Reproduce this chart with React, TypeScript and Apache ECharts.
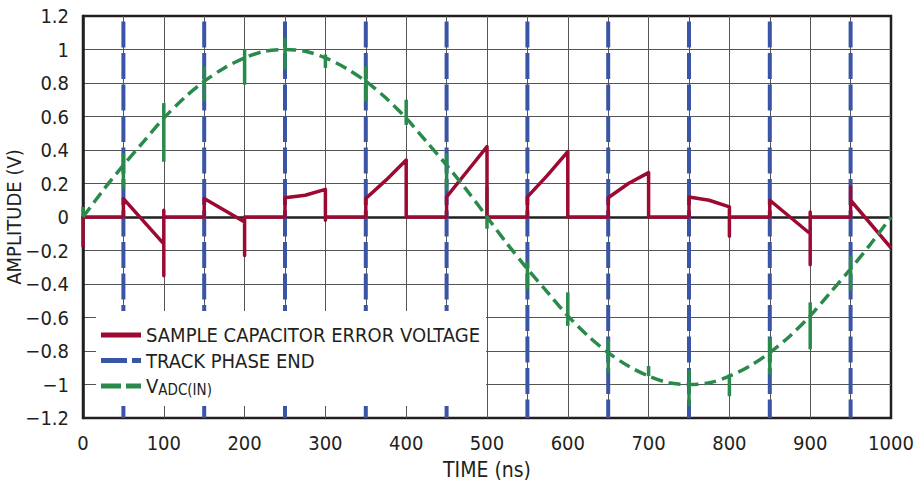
import React, { useEffect, useRef } from "react";
import * as echarts from "echarts";

// ---------- data ----------
const X_MIN = 0;
const X_MAX = 1000;
const Y_MIN = -1.2;
const Y_MAX = 1.2;

// Sample capacitor error voltage (time in ns, amplitude in V)
const ERR_T = [
  0, 0, 50, 50, 100, 100, 100, 100, 150, 150, 175, 200, 200, 200, 250, 250, 275, 300, 300, 300,
  350, 350, 375, 400, 400, 450, 450, 475, 500, 500, 550, 550, 575, 600, 600, 650, 650, 675, 700, 700,
  750, 750, 775, 800, 800, 800, 850, 850, 875, 900, 900, 900, 900, 950, 950, 950, 1000,
];
const ERR_V = [
  -0.18, 0, 0, 0.11, -0.16, -0.35, 0.04, 0, 0, 0.11, 0.04, -0.03, -0.23, 0, 0, 0.115, 0.13, 0.165, -0.02, 0,
  0, 0.11, 0.22, 0.34, 0, 0, 0.12, 0.27, 0.42, 0, 0, 0.12, 0.25, 0.39, 0, 0, 0.115, 0.2, 0.265, 0,
  0, 0.12, 0.1, 0.06, -0.115, 0, 0, 0.1, 0.0, -0.1, -0.285, 0.03, 0, 0, 0.18, 0.1, -0.185,
];

// Track phase end markers (ns)
const TRACK_END = [50, 150, 250, 350, 450, 550, 650, 750, 850, 950];

// ADC input voltage (read every 25 ns)
const VIN_T = [
  0, 25, 50, 75, 100, 125, 150, 175, 200, 225, 250, 275, 300, 325, 350, 375, 400, 425, 450, 475,
  500, 525, 550, 575, 600, 625, 650, 675, 700, 725, 750, 775, 800, 825, 850, 875, 900, 925, 950, 975, 1000,
];
const VIN_V = [
  0, 0.16, 0.31, 0.45, 0.59, 0.71, 0.81, 0.89, 0.95, 0.99, 1.0, 0.99, 0.95, 0.89, 0.81, 0.71, 0.59, 0.45, 0.31, 0.16,
  0, -0.16, -0.31, -0.45, -0.59, -0.71, -0.81, -0.89, -0.95, -0.99, -1.0, -0.99, -0.95, -0.89, -0.81, -0.71, -0.59, -0.45, -0.31, -0.16, 0,
];

// Glitches on the ADC input at each sampling instant: time, low, high
const GLITCH_T = [0, 50, 100, 150, 200, 250, 300, 350, 400, 450, 500, 550, 600, 650, 700, 750, 800, 850, 900, 950];
const GLITCH_LO = [-0.02, 0.17, 0.33, 0.69, 0.79, 0.88, 0.89, 0.69, 0.55, 0.16, -0.07, -0.43, -0.65, -0.93, -0.95, -1.13, -1.07, -0.94, -0.79, -0.44];
const GLITCH_HI = [0.06, 0.38, 0.68, 0.9, 1.0, 1.07, 0.97, 0.9, 0.7, 0.38, 0.18, -0.27, -0.45, -0.73, -0.89, -0.91, -0.94, -0.72, -0.51, -0.23];

const NAME_ERR = "SAMPLE CAPACITOR ERROR VOLTAGE";
const NAME_TRACK = "TRACK PHASE END";
const NAME_VIN = "VADC(IN)";

// ---------- styles ----------
const RED = "#9c0a32";
const BLUE = "#3a55a5";
const GREEN = "#2a8a4c";
const GRID = "#555555";
const INK = "#231f20";
const FONT = "'Liberation Sans Narrow', 'Arial Narrow', 'DejaVu Sans Condensed', sans-serif";

export default function App() {
  const ref = useRef<HTMLDivElement>(null);

  useEffect(() => {
    if (!ref.current) return;
    const chart = echarts.init(ref.current, undefined, { renderer: "svg" });

    const fmtY = (v: number) => {
      if (Math.abs(v) < 1e-9) return "0";
      return String(+v.toFixed(1)).replace("-", "\u2212");
    };

    chart.setOption({
      animation: false,
      backgroundColor: "#ffffff",
      textStyle: { fontFamily: FONT, color: INK },
      grid: {
        left: 83,
        right: 23,
        top: 16,
        bottom: 70,
        containLabel: false,
        outerBoundsMode: "none",
        show: true,
        borderColor: INK,
        borderWidth: 2.5,
        backgroundColor: "transparent",
      },
      xAxis: {
        type: "value",
        min: X_MIN,
        max: X_MAX,
        interval: 50,
        name: "TIME (ns)",
        nameLocation: "middle",
        nameGap: 41,
        nameMoveOverlap: false,
        nameTextStyle: { fontSize: 21, color: INK, fontFamily: FONT },
        axisLine: { show: true, lineStyle: { color: INK, width: 2.5 } },
        axisTick: { show: false },
        axisLabel: {
          margin: 15,
          fontSize: 20,
          color: INK,
          fontFamily: FONT,
          formatter: (v: number) => (Math.round(v) % 100 === 0 ? String(Math.round(v)) : ""),
        },
        splitLine: { show: true, showMinLine: false, showMaxLine: false, lineStyle: { color: GRID, width: 1 } },
      },
      yAxis: {
        type: "value",
        min: Y_MIN,
        max: Y_MAX,
        interval: 0.2,
        name: "AMPLITUDE (V)",
        nameLocation: "middle",
        nameGap: 59,
        nameMoveOverlap: false,
        nameRotate: 90,
        nameTextStyle: { fontSize: 20, color: INK, fontFamily: FONT },
        axisLine: { show: true, lineStyle: { color: INK, width: 2.5 } },
        axisTick: { show: false },
        axisLabel: { margin: 14, fontSize: 20, color: INK, fontFamily: FONT, formatter: fmtY },
        splitLine: { show: true, showMinLine: false, showMaxLine: false, lineStyle: { color: GRID, width: 1 } },
      },
      legend: {
        orient: "vertical",
        left: 96,
        top: 311,
        padding: [13, 6, 9, 5],
        itemGap: 3.5,
        itemWidth: 40,
        itemHeight: 5,
        backgroundColor: "#ffffff",
        selectedMode: false,
        itemStyle: { borderWidth: 0 },
        textStyle: {
          fontSize: 20,
          lineHeight: 22,
          color: INK,
          fontFamily: FONT,
          rich: {
            v: { fontSize: 20, lineHeight: 22, color: INK, fontFamily: FONT },
            sub: { fontSize: 15, lineHeight: 10, verticalAlign: "bottom", color: INK, fontFamily: FONT },
          },
        },
        formatter: (name: string) => (name === NAME_VIN ? "{v|V}{sub|ADC(IN)}" : name),
        data: [
          { name: NAME_ERR, icon: "path://M0,0H40V5H0Z" },
          { name: NAME_TRACK, icon: "path://M0,0H26V5H0Z M31,0H40V5H31Z" },
          { name: NAME_VIN, icon: "path://M0,0H20V5H0Z M25,0H40V5H25Z" },
        ],
      },
      series: [
        {
          name: NAME_ERR,
          type: "line",
          data: ERR_T.map((t, i) => [t, ERR_V[i]]),
          showSymbol: false,
          symbol: "none",
          itemStyle: { color: RED },
          lineStyle: { color: RED, width: 3.5, join: "round" },
        },
        {
          name: NAME_TRACK,
          type: "custom",
          data: TRACK_END.map((t) => [t]),
          encode: { x: 0 },
          itemStyle: { color: BLUE },
          renderItem: (_params: any, api: any) => {
            const t = api.value(0);
            const top = api.coord([t, Y_MAX]);
            const bot = api.coord([t, Y_MIN]);
            return {
              type: "line",
              shape: { x1: top[0], y1: top[1], x2: bot[0], y2: bot[1] },
              style: { stroke: BLUE, lineWidth: 4, lineDash: [26, 5.5], lineDashOffset: 26 },
            };
          },
        },
        {
          name: NAME_VIN,
          type: "line",
          data: VIN_T.map((t, i) => [t, VIN_V[i]]),
          smooth: 0.3,
          showSymbol: false,
          symbol: "none",
          itemStyle: { color: GREEN },
          lineStyle: { color: GREEN, width: 3.5, type: [12, 6] },
        },
        {
          name: "glitch",
          type: "custom",
          data: GLITCH_T.map((t, i) => [t, GLITCH_LO[i], GLITCH_HI[i]]),
          encode: { x: 0, y: [1, 2] },
          itemStyle: { color: GREEN },
          renderItem: (_params: any, api: any) => {
            const t = api.value(0);
            const a = api.coord([t, api.value(1)]);
            const b = api.coord([t, api.value(2)]);
            return {
              type: "line",
              shape: { x1: a[0], y1: a[1], x2: b[0], y2: b[1] },
              style: { stroke: GREEN, lineWidth: 3.5 },
            };
          },
        },
      ],
    });

    return () => chart.dispose();
  }, []);

  return (
    <div
      ref={ref}
      style={{ position: "fixed", left: 0, top: 0, width: 914, height: 488, background: "#fff" }}
    />
  );
}
